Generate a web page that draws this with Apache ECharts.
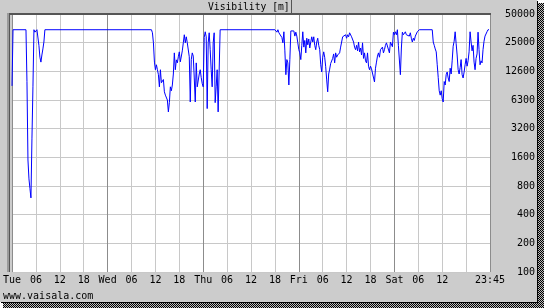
<!DOCTYPE html>
<html><head><meta charset="utf-8">
<script src="https://cdn.jsdelivr.net/npm/echarts@6/dist/echarts.min.js"></script>
<style>html,body{margin:0;padding:0;background:#fff}#c{width:544px;height:308px}</style>
</head><body><div id="c"></div>
<script>
// ---- axis ticks ----
const xTickHours  = [0,6,12,18,24,30,36,42,48,54,60,66,72,78,84,90,96,102,108,114,120];
const xTickLabels = ['Tue','06','12','18','Wed','06','12','18','Thu','06','12','18','Fri','06','12','18','Sat','06','12','','23:45'];
const yTickValues = [100,200,400,800,1600,3200,6400,12800,25600,51200];
const yTickLabels = ['100','200','400','800','1600','3200','6300','12600','25000','50000'];

// ---- visibility series (hours since Tue 00:00, metres) ----
const hoursTue = [0,0.25,3.5,3.75,4,4.25,4.5,4.75,5,5.25,5.5,5.75,6,6.25,6.5,6.75,7,7.25,7.5,7.75,8,8.25,35];
const visTue   = [9000,35000,35000,10000,1500,950,750,600,2500,8800,35000,33000,33000,35000,35000,24000,18000,16000,19000,22000,26000,35000,35000];

const hoursWed = [35.25,35.5,35.75,36,36.25,36.5,36.75,37,37.25,37.5,37.75,38,38.25,38.5,38.75,39,39.25,39.5,39.75,40,
                  40.25,40.5,40.75,41,41.25,41.5,41.75,42,42.25,42.5,42.75,43,43.25,43.5,43.75,44,44.25,44.5,44.75,45,
                  45.25,45.5,45.75,46,46.25,46.5,46.75,47,47.25,47.5,47.75,48,48.25,48.5,48.75,49,49.25,49.5,49.75,50,
                  50.25,50.5,50.75,51,51.25,51.5,51.75,52,52.25,66];
const visWed   = [32500,25500,16000,13300,15000,13300,11800,8800,13300,9700,9700,10500,7800,7200,7200,6400,4800,6000,8800,8000,
                  9200,12000,20000,13300,16900,15700,18200,20500,16100,16100,21000,25500,31000,25500,29500,25500,25500,18200,6100,17000,
                  20000,18500,10900,6100,15700,8800,8800,12000,13300,11000,9500,8800,29000,33300,29500,5200,25500,32500,21600,13300,
                  8800,25500,32500,6000,8800,13300,4800,4800,35000,35000];

const hoursThu = [66.5,66.75,67,67.25,67.5,67.75,68,68.25,68.5,68.75,69,69.25,69.5,69.75,70,70.25,70.5,70.75,71,71.25,71.5,71.75,72];
const visThu   = [33000,35000,32500,32500,34000,29000,25500,33300,21000,11800,17000,15700,9200,17000,34000,34400,33000,34000,30000,33000,30000,25500,21600];

const hoursFri = [72.25,72.5,72.75,73,73.25,73.5,73.75,74,74.25,74.5,74.75,75,75.25,75.5,75.75,76,76.25,76.5,76.75,77,
                  77.25,77.5,77.75,78,78.25,78.5,78.75,79,79.25,79.5,79.75,80,80.25,80.5,80.75,81,81.25,81.5,81.75,82,
                  82.25,82.5,82.75,83,83.25,83.5,83.75,84,84.25,84.5,84.75,85,85.25,85.5,85.75,86,86.25,86.5,86.75,87,
                  87.25,87.5,87.75,88,88.25,88.5,88.75,89,89.25,89.5,89.75,90,90.25,90.5,90.75,91,91.25,91.5,91.75,92];
const visFri   = [20000,17000,24000,33300,23000,27000,20000,28500,24300,28000,22500,26000,29500,26000,29500,24000,21600,26000,28500,24000,
                  21600,15000,12600,18000,20500,18000,14300,10400,7800,12000,13500,15500,15700,17500,19500,15700,20000,18000,19000,18200,
                  20000,23000,26000,29500,30500,28500,31000,28500,31000,29500,32500,31000,29500,28500,26000,23000,21600,24000,21000,26000,
                  20500,22500,19000,25500,17500,20000,16500,15700,20000,14500,13300,14500,13600,13000,13300,9900,13800,16000,18500,20000];

const hoursSatA = [92.25,92.5,92.75,93,93.25,93.5,93.75,94,94.25,94.5,94.75,95,95.25,95.5,95.75,96,96.25,96.5,96.75,97,
                   97.25,97.5,97.75,98,98.25,98.5,98.75,99,99.25,99.5,99.75,100,100.25,100.5,100.75,101,101.25,101.5,101.75,102,102.25];
const visSatA   = [18000,21600,22500,23000,20000,21600,24000,25500,26000,25000,20000,26000,25500,23200,33000,31000,33300,31000,35000,24000,
                   24000,11800,22500,33000,31000,30000,33300,31000,32500,32500,30000,32500,28500,26000,28500,27000,30000,31000,33300,34000,35000];

const hoursSatB = [105.5,105.75,106,106.25,106.5,106.75,107,107.25,107.5,107.75,108,108.25,108.5,108.75,109,109.25,109.5,109.75,110,110.25,
                   110.5,110.75,111,111.25,111.5,111.75,112,112.25,112.5,112.75,113,113.25,113.5,113.75,114,114.25,114.5,114.75,115,115.25,
                   115.5,115.75,116,116.25,116.5,116.75,117,117.25,117.5,117.75,118,118.25,118.5,118.75,119,119.25,119.5,119.75];
const visSatB   = [35000,26000,24000,22000,20500,15000,11000,8000,7200,8000,6600,6100,10000,9200,11800,12600,10900,10000,13800,12000,
                   16500,23500,26500,33300,25000,19000,13300,12000,14000,17000,11800,10900,12600,15000,17500,14500,16500,20500,33300,26000,
                   21000,24000,16000,13300,17500,19500,33000,21600,15000,16500,15700,21600,26500,30000,31000,33300,35000,35000];

const hours = [].concat(hoursTue, hoursWed, hoursThu, hoursFri, hoursSatA, hoursSatB);
const visibility = [].concat(visTue, visWed, visThu, visFri, visSatA, visSatB);

// log axis is expressed in hundreds of metres so that its ticks fall on 100·2^k
const UNIT = 100;
const seriesData = hours.map((h, i) => [h, visibility[i] / UNIT]);

const FONT = '"DejaVu Sans Mono","Liberation Mono",monospace';
const chart = echarts.init(document.getElementById('c'), null, {renderer: 'canvas'});

// checker pattern for the drop shadow
const pc = document.createElement('canvas');
pc.width = 2; pc.height = 2;
const pctx = pc.getContext('2d');
pctx.fillStyle = '#bbbbbb'; pctx.fillRect(0, 0, 2, 2);
pctx.fillStyle = '#000000'; pctx.fillRect(0, 0, 1, 1); pctx.fillRect(1, 1, 1, 1);
const checker = {image: pc, repeat: 'repeat'};

chart.setOption({
  animation: false,
  backgroundColor: '#cccccc',
  title: {
    text: 'Visibility [m]', left: 208, top: 2, padding: 0,
    textStyle: {fontFamily: FONT, fontSize: 9.7, fontWeight: 'normal', color: '#000'}
  },
  grid: {left: 10, right: 54, top: 14, bottom: 36, show: true, backgroundColor: '#ffffff', borderWidth: 0},
  xAxis: {
    type: 'value', min: xTickHours[0], max: xTickHours[xTickHours.length - 1], interval: 6,
    axisLine: {show: false}, axisTick: {show: false},
    axisLabel: {
      fontFamily: FONT, fontSize: 10, color: '#000', margin: 3, showMinLabel: true, showMaxLabel: true,
      formatter: v => { const i = xTickHours.indexOf(Math.round(v * 100) / 100); return i >= 0 ? xTickLabels[i] : ''; }
    },
    splitLine: {show: true, lineStyle: {width: 1, color: ['#8c8c8c', '#c8c8c8', '#c8c8c8', '#c8c8c8']}}
  },
  yAxis: {
    type: 'log', logBase: 2, position: 'right',
    min: yTickValues[0] / UNIT, max: yTickValues[yTickValues.length - 1] / UNIT,
    interval: 1, splitNumber: 9,
    axisLine: {show: false}, axisTick: {show: false},
    axisLabel: {
      fontFamily: FONT, fontSize: 10, color: '#000', align: 'right', margin: 45,
      formatter: v => { const i = yTickValues.indexOf(Math.round(v * UNIT)); return i >= 0 ? yTickLabels[i] : ''; }
    },
    splitLine: {show: true, lineStyle: {width: 1, color: '#c8c8c8'}}
  },
  series: [{
    type: 'line', data: seriesData, showSymbol: false, symbol: 'none',
    lineStyle: {color: '#0000ff', width: 1}, clip: true, z: 5
  }],
  graphic: [
    {type: 'text', left: 3, top: 291, style: {text: 'www.vaisala.com', font: '10px ' + FONT, fill: '#000'}},
    // plot frame (top + left)
    {type: 'rect', shape: {x: 8, y: 13, width: 483, height: 2}, style: {fill: '#555555'}, z: 20},
    {type: 'rect', shape: {x: 7, y: 13, width: 2, height: 259}, style: {fill: '#9a9a9a'}, z: 20},
    {type: 'rect', shape: {x: 9, y: 13, width: 1, height: 259}, style: {fill: '#555555'}, z: 20},
    // title tab edge
    {type: 'rect', shape: {x: 291, y: 0, width: 1, height: 14}, style: {fill: '#555555'}, z: 20},
    // outer frame + drop shadow
    {type: 'rect', shape: {x: 537, y: 0, width: 7, height: 308}, style: {fill: '#ffffff'}, z: 20},
    {type: 'rect', shape: {x: 0, y: 302, width: 544, height: 6}, style: {fill: '#ffffff'}, z: 20},
    {type: 'rect', shape: {x: 538, y: 3, width: 6, height: 305}, style: {fill: checker}, z: 21},
    {type: 'rect', shape: {x: 3, y: 303, width: 541, height: 5}, style: {fill: checker}, z: 21},
    {type: 'rect', shape: {x: 537, y: 1, width: 1, height: 302}, style: {fill: '#000000'}, z: 22},
    {type: 'rect', shape: {x: 1, y: 302, width: 537, height: 1}, style: {fill: '#000000'}, z: 22}
  ]
});
</script></body></html>
